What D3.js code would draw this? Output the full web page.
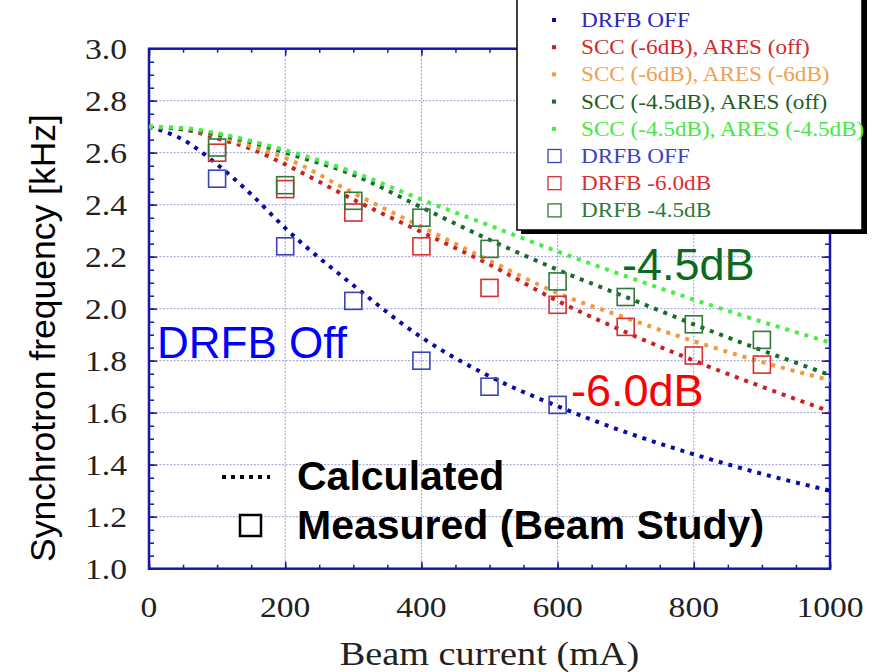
<!DOCTYPE html>
<html>
<head>
<meta charset="utf-8">
<script src="https://cdn.jsdelivr.net/npm/d3@7"></script>
<style>
  html, body { margin: 0; padding: 0; background: #fff; }
  svg { display: block; }
</style>
</head>
<body>
<svg id="chart" width="873" height="672"></svg>
<script>
// ---------- data ----------
const calcCurrent = [0, 50, 100, 150, 200, 300, 400, 500, 600, 700, 800, 900, 1000];
const calcDrfbOff   = [2.70, 2.65, 2.555, 2.44, 2.31, 2.09, 1.89, 1.74, 1.625, 1.525, 1.44, 1.365, 1.30];
const calcScc6Off   = [2.70, 2.69, 2.655, 2.615, 2.555, 2.42, 2.295, 2.17, 2.03, 1.91, 1.80, 1.70, 1.605];
const calcScc6Ares6 = [2.70, 2.69, 2.665, 2.625, 2.58, 2.445, 2.315, 2.185, 2.06, 1.965, 1.875, 1.795, 1.725];
const calcScc45Off  = [2.70, 2.69, 2.67, 2.64, 2.60, 2.515, 2.39, 2.265, 2.15, 2.045, 1.94, 1.84, 1.745];
const calcScc45Ares = [2.70, 2.695, 2.675, 2.645, 2.61, 2.525, 2.42, 2.32, 2.22, 2.125, 2.035, 1.95, 1.87];

const measCurrentOff = [100, 200, 300, 400, 500, 600];
const measDrfbOff    = [2.50, 2.24, 2.03, 1.80, 1.70, 1.63];
const measCurrent    = [100, 200, 300, 400, 500, 600, 700, 800, 900];
const measDrfb60     = [2.60, 2.46, 2.37, 2.24, 2.08, 2.015, 1.93, 1.82, 1.785];
const measDrfb45     = [2.62, 2.475, 2.415, 2.35, 2.23, 2.105, 2.045, 1.94, 1.88];

const xTicks = [0, 200, 400, 600, 800, 1000];
const yTicks = [1.0, 1.2, 1.4, 1.6, 1.8, 2.0, 2.2, 2.4, 2.6, 2.8, 3.0];

const calcLabels = ["DRFB OFF", "SCC (-6dB), ARES (off)", "SCC (-6dB), ARES (-6dB)",
                    "SCC (-4.5dB), ARES (off)", "SCC (-4.5dB), ARES (-4.5dB)"];
const measLabels = ["DRFB OFF", "DRFB -6.0dB", "DRFB -4.5dB"];

// ---------- styling ----------
const calcColors = ["#0a0aa8", "#cc2020", "#f29a3a", "#1a6a2a", "#44ee44"];
const calcText   = ["#2828c0", "#d42828", "#f0a050", "#1e5e28", "#44e844"];
const measColors = ["#3a44b8", "#d83030", "#2f7a3a"];

const svg = d3.select("#chart");
const x = d3.scaleLinear().domain([0, 1000]).range([149, 830]);
const y = d3.scaleLinear().domain([1, 3]).range([568.7, 48.7]);
const X0 = x.range()[0], X1 = x.range()[1], Y0 = y.range()[0], Y1 = y.range()[1];

const frameColor = "#1616a8";
const gridColor = "#9a9ad8";

// grid lines
const g = svg.append("g");
g.selectAll("line.gx").data(xTicks.slice(1, -1)).enter().append("line")
  .attr("x1", d => x(d)).attr("x2", d => x(d)).attr("y1", Y0).attr("y2", Y1)
  .attr("stroke", gridColor).attr("stroke-width", 1).attr("stroke-dasharray", "2,1.5");
g.selectAll("line.gy").data(yTicks.slice(1, -1)).enter().append("line")
  .attr("y1", d => y(d)).attr("y2", d => y(d)).attr("x1", X0).attr("x2", X1)
  .attr("stroke", gridColor).attr("stroke-width", 1).attr("stroke-dasharray", "2,1.5");

// axes with inward ticks (minor and major)
function addAxis(axisGen, transform) {
  const a = svg.append("g").attr("transform", transform).call(axisGen);
  a.select(".domain").remove();
  a.selectAll("text").remove();
  a.selectAll("line").attr("stroke", frameColor).attr("stroke-width", 1.5);
}
const xMinor = d3.range(0, 1001, 50);
const yMinor = d3.range(1, 3.001, 0.05);
addAxis(d3.axisBottom(x).tickValues(xMinor).tickSize(-4), `translate(0,${Y0})`);
addAxis(d3.axisTop(x).tickValues(xMinor).tickSize(-4), `translate(0,${Y1})`);
addAxis(d3.axisBottom(x).tickValues(xTicks).tickSize(-7), `translate(0,${Y0})`);
addAxis(d3.axisTop(x).tickValues(xTicks).tickSize(-7), `translate(0,${Y1})`);
addAxis(d3.axisLeft(y).tickValues(yMinor).tickSize(-5), `translate(${X0},0)`);
addAxis(d3.axisRight(y).tickValues(yMinor).tickSize(-5), `translate(${X1},0)`);
addAxis(d3.axisLeft(y).tickValues(yTicks).tickSize(-8), `translate(${X0},0)`);
addAxis(d3.axisRight(y).tickValues(yTicks).tickSize(-8), `translate(${X1},0)`);

// frame
svg.append("rect").attr("x", X0).attr("y", Y1).attr("width", X1 - X0).attr("height", Y0 - Y1)
  .attr("fill", "none").attr("stroke", frameColor).attr("stroke-width", 2.5);

// tick labels (serif, slightly stretched)
const serif = "'Liberation Serif', 'DejaVu Serif', serif";
svg.selectAll("text.xl").data(xTicks).enter().append("text")
  .attr("transform", d => `translate(${x(d)},${617}) scale(1.16,1)`)
  .attr("text-anchor", "middle").attr("font-family", serif).attr("font-size", 29)
  .attr("fill", "#222").text(d => d);
svg.selectAll("text.yl").data(yTicks).enter().append("text")
  .attr("transform", d => `translate(${127},${y(d) + 10}) scale(1.16,1)`)
  .attr("text-anchor", "end").attr("font-family", serif).attr("font-size", 29)
  .attr("fill", "#222").text(d => d.toFixed(1));

// axis titles
svg.append("text")
  .attr("transform", `translate(${(X0 + X1) / 2},665) scale(1.16,1)`)
  .attr("text-anchor", "middle").attr("font-family", serif).attr("font-size", 33)
  .attr("fill", "#222").text("Beam current (mA)");
const sans = "'Liberation Sans', Arial, sans-serif";
svg.append("text")
  .attr("transform", `translate(55,${338}) rotate(-90)`)
  .attr("text-anchor", "middle").attr("font-family", sans).attr("font-size", 35.5)
  .attr("fill", "#000").text("Synchrotron frequency [kHz]");

// calculated curves (dotted)
const calcSeries = [calcDrfbOff, calcScc6Off, calcScc6Ares6, calcScc45Off, calcScc45Ares];
const line = d3.line().x(d => x(d[0])).y(d => y(d[1])).curve(d3.curveMonotoneX);
calcSeries.forEach((vals, i) => {
  svg.append("path")
    .datum(calcCurrent.map((c, k) => [c, vals[k]]))
    .attr("d", line).attr("fill", "none")
    .attr("stroke", calcColors[i]).attr("stroke-width", 4)
    .attr("stroke-dasharray", "4,6");
});

// measured squares
const sq = 17;
const measSets = [[measCurrentOff, measDrfbOff], [measCurrent, measDrfb60], [measCurrent, measDrfb45]];
measSets.forEach(([xs, vs], i) => {
  svg.selectAll(null).data(xs.map((c, k) => [c, vs[k]])).enter().append("rect")
    .attr("x", d => x(d[0]) - sq / 2).attr("y", d => y(d[1]) - sq / 2)
    .attr("width", sq).attr("height", sq)
    .attr("fill", "none").attr("stroke", measColors[i]).attr("stroke-width", 1.6);
});

// annotations
svg.append("text").attr("x", 157).attr("y", 358).attr("font-family", sans).attr("font-size", 44)
  .attr("fill", "#0000ff").text("DRFB Off");
svg.append("text").attr("x", 622).attr("y", 280).attr("font-family", sans).attr("font-size", 45)
  .attr("fill", "#0b6a1c").text("-4.5dB");
svg.append("text").attr("x", 571).attr("y", 406).attr("font-family", sans).attr("font-size", 45)
  .attr("fill", "#ff0000").text("-6.0dB");

// calculated / measured key
svg.append("line").attr("x1", 222).attr("x2", 270).attr("y1", 477).attr("y2", 477)
  .attr("stroke", "#000").attr("stroke-width", 4).attr("stroke-dasharray", "4,5");
svg.append("rect").attr("x", 240).attr("y", 515).attr("width", 21).attr("height", 21)
  .attr("fill", "#fff").attr("stroke", "#000").attr("stroke-width", 2.5);
svg.append("text").attr("x", 297).attr("y", 490).attr("font-family", sans).attr("font-size", 41)
  .attr("font-weight", "bold").attr("fill", "#000").text("Calculated");
svg.append("text").attr("x", 297).attr("y", 539).attr("font-family", sans).attr("font-size", 41)
  .attr("font-weight", "bold").attr("fill", "#000").text("Measured (Beam Study)");

// legend box
const lg = svg.append("g");
lg.append("rect").attr("x", 521).attr("y", -10).attr("width", 346).attr("height", 244).attr("fill", "#000");
lg.append("rect").attr("x", 517).attr("y", -10).attr("width", 345).attr("height", 240)
  .attr("fill", "#fff").attr("stroke", "#000").attr("stroke-width", 1.5);
const rowY = d3.range(8).map(k => 20 + k * 27.2);
calcLabels.forEach((t, i) => {
  lg.append("rect").attr("x", 552).attr("y", rowY[i] - 2).attr("width", 4).attr("height", 4)
    .attr("fill", calcColors[i]);
  lg.append("text").attr("transform", `translate(581,${rowY[i] + 7}) scale(1.16,1)`)
    .attr("font-family", serif).attr("font-size", 20).attr("fill", calcText[i]).text(t);
});
measLabels.forEach((t, i) => {
  const ry = rowY[5 + i];
  lg.append("rect").attr("x", 548).attr("y", ry - 6.5).attr("width", 13).attr("height", 13)
    .attr("fill", "none").attr("stroke", measColors[i]).attr("stroke-width", 1.3);
  lg.append("text").attr("transform", `translate(581,${ry + 7}) scale(1.16,1)`)
    .attr("font-family", serif).attr("font-size", 20).attr("fill", measColors[i]).text(t);
});
</script>
</body>
</html>
